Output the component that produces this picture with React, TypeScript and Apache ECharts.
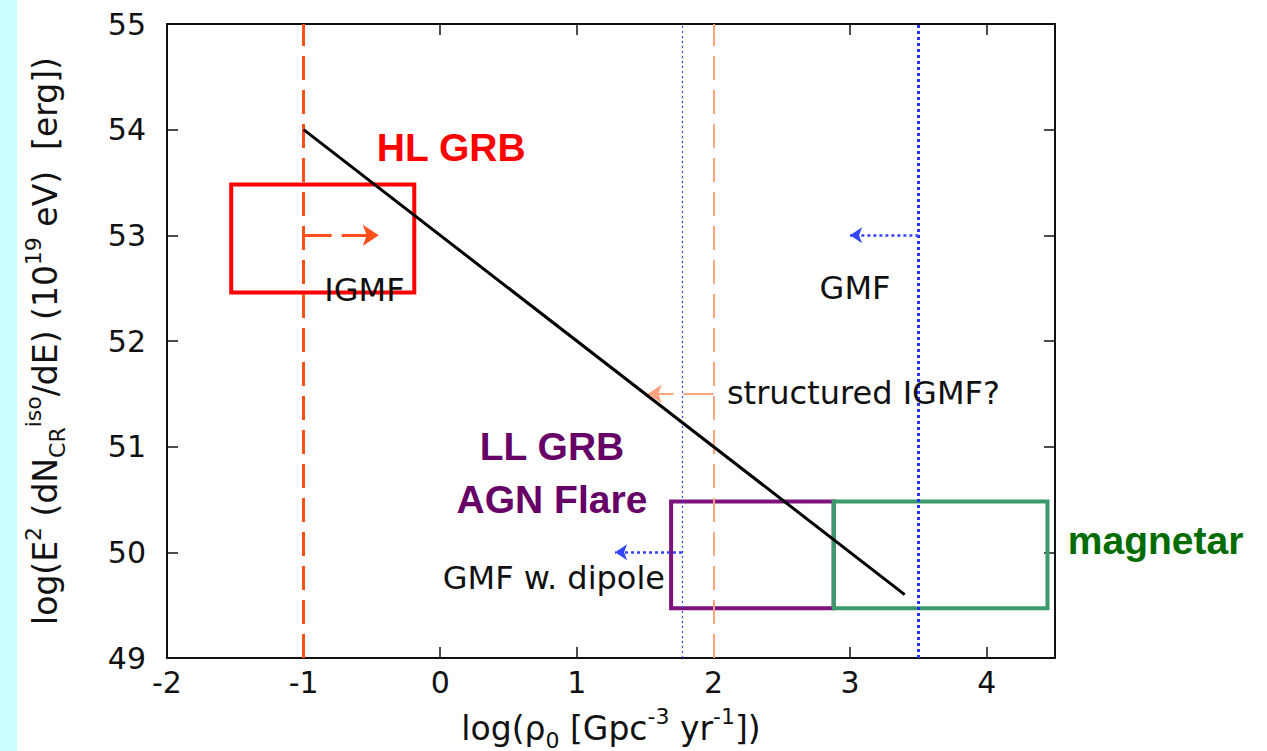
import React, { useEffect, useRef } from "react";
import * as echarts from "echarts";

// ---- data ----
const xMin = -2;
const xMax = 4.5;
const yMin = 49;
const yMax = 55;
const lineX = [-1, 3.4];
const lineY = [54, 49.6];

const vLineX = [-1, 1.77, 2, 3.5];

const arrowStartX = [-1, 2, 3.5, 1.77];
const arrowEndX = [-0.45, 1.52, 3.0, 1.28];
const arrowY = [53, 51.5, 53, 50];

const boxX0 = [-1.53, 1.69, 2.88];
const boxX1 = [-0.19, 2.88, 4.445];
const boxY0 = [52.46, 49.47, 49.47];
const boxY1 = [53.48, 50.48, 50.48];

const noteTexts = ["IGMF", "GMF", "structured IGMF?", "GMF w. dipole"];
const noteX = [-0.555, 3.036, 2.095, 0.015];
const noteY = [52.48, 52.5, 51.51, 49.76];

const classTexts = ["HL GRB", "LL GRB", "AGN Flare", "magnetar"];
const classX = [0.08, 0.818, 0.818, 4.59];
const classY = [53.83, 51.0, 50.5, 50.11];

// ---- styles ----
const vLineStyles = [
  { color: "#ff4f1a", width: 3, type: [24, 10] },
  { color: "#3344ff", width: 1.2, type: [2, 3] },
  { color: "#ffa47e", width: 2, type: [24, 10] },
  { color: "#2233ff", width: 3, type: [3, 3] },
];
const arrowStyles = [
  { color: "#ff4f1a", width: 3, type: [28, 10], size: 16 },
  { color: "#ffa47e", width: 2, type: [30, 10], size: 14 },
  { color: "#3344ff", width: 2.5, type: [3, 3], size: 12 },
  { color: "#3344ff", width: 2.5, type: [3, 3], size: 12 },
];
const boxColors = ["#ff0000", "#7d127d", "#3a9a6c"];
const noteAlign = ["center", "center", "left", "left"];
const classColors = ["#ff0000", "#660066", "#660066", "#006c00"];
const classAlign = ["center", "center", "center", "left"];

const textFont = "DejaVu Sans";

export default function App() {
  const ref = useRef<HTMLDivElement>(null);
  useEffect(() => {
    if (!ref.current) return;
    const chart = echarts.init(ref.current, undefined, { renderer: "svg" });

    const commonAxis = {
      axisLine: { show: true, onZero: false, lineStyle: { color: "#111", width: 2 } },
      axisTick: { show: true, inside: true, length: 11, lineStyle: { color: "#111", width: 1.5 } },
      splitLine: { show: false },
    };

    const series: any[] = [];

    // vertical reference lines
    series.push({
      type: "line",
      data: [],
      z: 3,
      silent: true,
      markLine: {
        silent: true,
        symbol: ["none", "none"],
        label: { show: false },
        animation: false,
        data: vLineX.map((x, i) => ({
          xAxis: x,
          lineStyle: vLineStyles[i],
        })),
      },
    });

    // arrows
    series.push({
      type: "line",
      data: [],
      z: 4,
      silent: true,
      markLine: {
        silent: true,
        symbol: ["none", "arrow"],
        label: { show: false },
        animation: false,
        data: arrowStartX.map((x, i) => [
          {
            coord: [x, arrowY[i]],
            symbolSize: [0, 0],
            lineStyle: {
              color: arrowStyles[i].color,
              width: arrowStyles[i].width,
              type: arrowStyles[i].type,
            },
            itemStyle: { color: arrowStyles[i].color },
          },
          { coord: [arrowEndX[i], arrowY[i]], symbolSize: arrowStyles[i].size },
        ]),
      },
    });

    // main line
    series.push({
      type: "line",
      data: lineX.map((x, i) => [x, lineY[i]]),
      symbol: "none",
      z: 5,
      lineStyle: { color: "#000", width: 3 },
      silent: true,
    });

    // notes
    series.push({
      type: "scatter",
      z: 6,
      clip: false,
      symbolSize: 1,
      itemStyle: { color: "rgba(0,0,0,0)", opacity: 1 },
      silent: true,
      data: noteTexts.map((t, i) => ({
        value: [noteX[i], noteY[i]],
        label: {
          show: true,
          formatter: t,
          position: noteAlign[i] === "left" ? "right" : "inside",
          distance: 0,
          fontFamily: textFont,
          fontSize: 32,
          color: "#111111",
          opacity: 1,
        },
      })),
    });

    // class labels
    series.push({
      type: "scatter",
      z: 7,
      clip: false,
      symbolSize: 1,
      itemStyle: { color: "rgba(0,0,0,0)", opacity: 1 },
      silent: true,
      data: classTexts.map((t, i) => ({
        value: [classX[i], classY[i]],
        label: {
          show: true,
          formatter: t,
          position: classAlign[i] === "left" ? "right" : "inside",
          distance: 0,
          fontFamily: "Liberation Sans, Arial, sans-serif",
          fontWeight: "bold",
          fontSize: 39,
          color: classColors[i],
          opacity: 1,
        },
      })),
    });

    // boxes
    boxX0.forEach((x0, i) => {
      series.push({
        type: "line",
        data: [],
        z: 10,
        silent: true,
        markArea: {
          silent: true,
          animation: false,
          itemStyle: {
            color: "rgba(0,0,0,0)",
            borderColor: boxColors[i],
            borderWidth: 4,
          },
          emphasis: { disabled: true },
          label: { show: false },
          data: [[{ coord: [x0, boxY0[i]] }, { coord: [boxX1[i], boxY1[i]] }]],
        },
      });
    });

    const nameRich = {
      n: { fontFamily: textFont, fontSize: 33, color: "#111111", lineHeight: 46, verticalAlign: "middle" },
      sup: { fontFamily: textFont, fontSize: 22, color: "#111111", lineHeight: 22, verticalAlign: "top" },
      sub: { fontFamily: textFont, fontSize: 22, color: "#111111", lineHeight: 22, verticalAlign: "bottom" },
    };

    chart.setOption({
      animation: false,
      backgroundColor: "#ffffff",
      graphic: [
        { type: "rect", left: 0, top: 0, shape: { width: 17, height: 751 }, style: { fill: "#ccffff" }, silent: true },
      ],
      grid: { left: 167, right: 212, top: 24, bottom: 93, containLabel: false, outerBoundsMode: "none" },
      xAxis: [
        {
          type: "value",
          min: xMin,
          max: xMax,
          interval: 1,
          position: "bottom",
          ...commonAxis,
          axisLabel: {
            show: true,
            margin: 9,
            fontFamily: textFont,
            fontSize: 30,
            color: "#111111",
            showMaxLabel: false,
          },
          name: "{n|log(ρ}{sub|0}{n| [Gpc}{sup|-3}{n| yr}{sup|-1}{n|])}",
          nameLocation: "middle",
          nameGap: 47,
          nameTextStyle: { rich: nameRich },
        },
        {
          type: "value",
          min: xMin,
          max: xMax,
          interval: 1,
          position: "top",
          ...commonAxis,
          axisLabel: { show: false },
        },
      ],
      yAxis: [
        {
          type: "value",
          min: yMin,
          max: yMax,
          interval: 1,
          position: "left",
          ...commonAxis,
          axisLabel: {
            show: true,
            margin: 21,
            fontFamily: textFont,
            fontSize: 30,
            color: "#111111",
          },
          name: "{n|log(E}{sup|2}{n| (dN}{sub|CR}{sup|iso}{n|/dE) (10}{sup|19}{n| eV)  [erg])}",
          nameLocation: "middle",
          nameGap: 99,
          nameTextStyle: { rich: nameRich },
        },
        {
          type: "value",
          min: yMin,
          max: yMax,
          interval: 1,
          position: "right",
          ...commonAxis,
          axisLabel: { show: false },
        },
      ],
      series,
    });

    return () => chart.dispose();
  }, []);

  return (
    <div
      ref={ref}
      style={{ position: "absolute", left: 0, top: 0, width: 1267, height: 751, background: "#fff" }}
    />
  );
}
